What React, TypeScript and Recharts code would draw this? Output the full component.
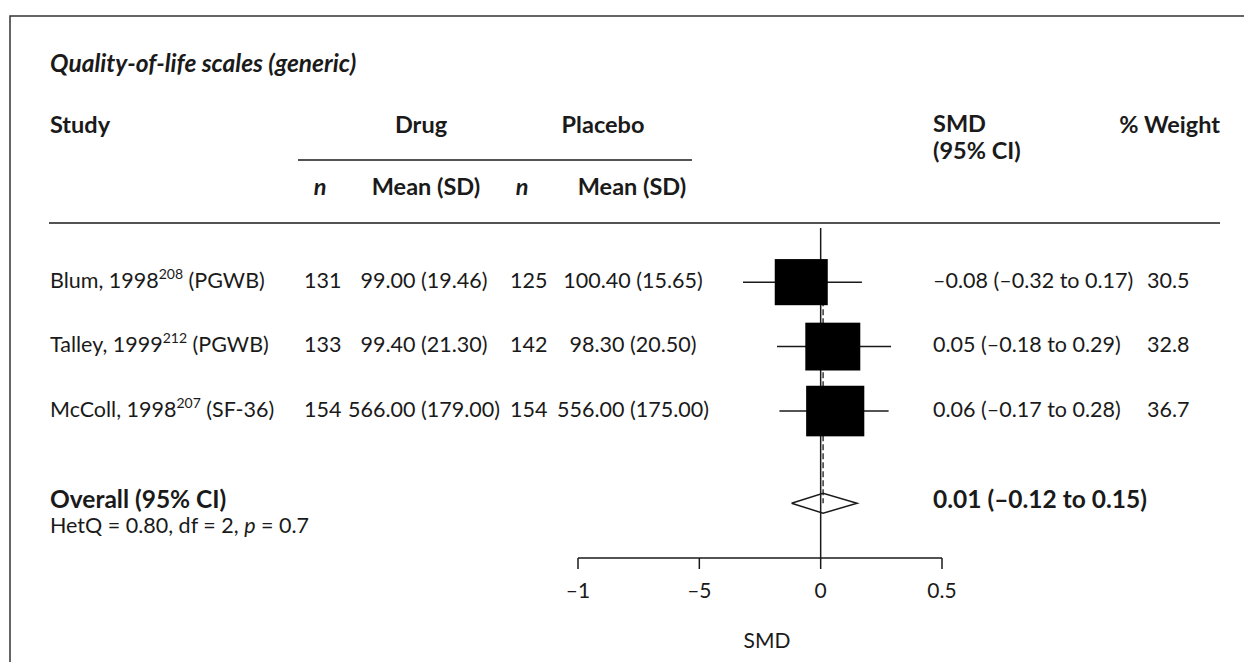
import { ComposedChart, Scatter, XAxis, YAxis, ReferenceLine, ErrorBar } from "recharts"

const W = 1244
const H = 662
const FONT = "Lato, 'DejaVu Sans', sans-serif"
const INK = "#1a1a1a"
const BODY_SIZE = 21.5
const HEAD_SIZE = 23.5

// study rows
const studies = ["Blum, 1998", "Talley, 1999", "McColl, 1998"]
const refNums = ["208", "212", "207"]
const instruments = ["(PGWB)", "(PGWB)", "(SF-36)"]
const drugN = [131, 133, 154]
const drugMean = [99.0, 99.4, 566.0]
const drugSd = [19.46, 21.3, 179.0]
const placeboN = [125, 142, 154]
const placeboMean = [100.4, 98.3, 556.0]
const placeboSd = [15.65, 20.5, 175.0]
const smd = [-0.08, 0.05, 0.06]
const ciLow = [-0.32, -0.18, -0.17]
const ciHigh = [0.17, 0.29, 0.28]
const weights = [30.5, 32.8, 36.7]

// pooled estimate + heterogeneity
const overallSmd = 0.01
const overallLow = -0.12
const overallHigh = 0.15
const hetQ = 0.8
const hetDf = 2
const hetP = 0.7

const xTicks = [-1, -0.5, 0, 0.5]
const xTickLabels = ["–1", "–5", "0", "0.5"]

// layout (row units on the y axis)
const OVERALL_ROW = 4.43
const DIAMOND_HALF = 0.155
const ROW_BASE = [288, 352, 417]

const fmt = (v: number) => (v < 0 ? "–" : "") + Math.abs(v).toFixed(2)

const studyPoints = smd.map((v, i) => ({
    x: v,
    y: i + 1,
    weight: weights[i],
    ci: [v - ciLow[i], ciHigh[i] - v],
}))

const diamondPoints = [
    { x: overallLow, y: OVERALL_ROW },
    { x: overallSmd, y: OVERALL_ROW - DIAMOND_HALF },
    { x: overallHigh, y: OVERALL_ROW },
    { x: overallSmd, y: OVERALL_ROW + DIAMOND_HALF },
    { x: overallLow, y: OVERALL_ROW },
]

// square area proportional to study weight
const WeightBox = (props: any) => {
    const { cx, cy, payload } = props
    const w = 9.6 * Math.sqrt(payload.weight)
    const h = w * 0.87
    return <rect x={cx - w / 2} y={cy - h / 2} width={w} height={h} fill="#000" />
}

const Blank = () => <g />

const App = () => {
    return (
        <div style={{ position: "relative", width: W, height: H, overflow: "hidden", background: "#fff" }}>
            <style>{"body{margin:0}"}</style>
            <div style={{ position: "absolute", left: 0, top: 0 }}>
                <ComposedChart
                    width={W}
                    height={H}
                    margin={{ top: 228, right: 302, bottom: 0, left: 578 }}
                >
                    <XAxis
                        type="number"
                        dataKey="x"
                        domain={[-1, 0.5]}
                        ticks={xTicks}
                        interval={0}
                        allowDataOverflow
                        height={104}
                        stroke={INK}
                        strokeWidth={1.5}
                        tickSize={11}
                        tickMargin={14}
                        tick={{ fill: INK, fontSize: 21, fontFamily: FONT }}
                        tickFormatter={(v: number) => xTickLabels[xTicks.indexOf(v)] ?? String(v)}
                        label={{ value: "SMD", position: "insideBottom", offset: 14, dx: 7, fill: INK, fontSize: 21, fontFamily: FONT }}
                    />
                    <YAxis type="number" dataKey="y" domain={[0.16, 5.28]} reversed hide allowDataOverflow />
                    <ReferenceLine x={0} stroke={INK} strokeWidth={1.5} />
                    <ReferenceLine
                        segment={[
                            { x: overallSmd, y: 1 },
                            { x: overallSmd, y: OVERALL_ROW },
                        ]}
                        stroke={INK}
                        strokeWidth={1.3}
                        strokeDasharray="6 3"
                    />
                    <Scatter data={studyPoints} shape={WeightBox} fill="#000" isAnimationActive={false}>
                        <ErrorBar dataKey="ci" direction="x" width={0} stroke={INK} strokeWidth={1.5} />
                    </Scatter>
                    <Scatter
                        data={diamondPoints}
                        line={{ stroke: INK, strokeWidth: 1.5 }}
                        lineType="joint"
                        shape={Blank}
                        fill="none"
                        isAnimationActive={false}
                    />
                </ComposedChart>
            </div>
            <svg
                width={W}
                height={H}
                style={{ position: "absolute", left: 0, top: 0, pointerEvents: "none" }}
                fontFamily={FONT}
                fontSize={BODY_SIZE}
                fill={INK}
            >
                {/* outer frame */}
                <path d={`M10 ${H} L10 16 L${W} 16`} fill="none" stroke="#333" strokeWidth={1.5} />

                <text x={50} y={72} fontSize={24.5} fontWeight="bold" fontStyle="italic">
                    Quality-of-life scales (generic)
                </text>

                <g fontWeight="bold" fontSize={HEAD_SIZE}>
                    <text x={50} y={133}>Study</text>
                    <text x={421} y={133} textAnchor="middle">Drug</text>
                    <text x={603} y={133} textAnchor="middle">Placebo</text>
                    <text x={933} y={132}>SMD</text>
                    <text x={933} y={159}>(95% CI)</text>
                    <text x={1220} y={133} textAnchor="end">% Weight</text>
                    <text x={320} y={195} fontStyle="italic" textAnchor="middle">n</text>
                    <text x={426} y={195} textAnchor="middle">Mean (SD)</text>
                    <text x={522} y={195} fontStyle="italic" textAnchor="middle">n</text>
                    <text x={632} y={195} textAnchor="middle">Mean (SD)</text>
                </g>

                <line x1={298} x2={692} y1={160} y2={160} stroke={INK} strokeWidth={1.5} />
                <line x1={49} x2={1220} y1={223} y2={223} stroke={INK} strokeWidth={1.5} />

                {studies.map((name, i) => (
                    <g key={name}>
                        <text x={50} y={ROW_BASE[i]}>
                            {name}
                            <tspan dy={-9} fontSize={14}>{refNums[i]}</tspan>
                            <tspan dy={9}> {instruments[i]}</tspan>
                        </text>
                        <text x={304} y={ROW_BASE[i]}>{drugN[i]}</text>
                        <text x={424} y={ROW_BASE[i]} textAnchor="middle">
                            {`${drugMean[i].toFixed(2)} (${drugSd[i].toFixed(2)})`}
                        </text>
                        <text x={510} y={ROW_BASE[i]}>{placeboN[i]}</text>
                        <text x={633} y={ROW_BASE[i]} textAnchor="middle">
                            {`${placeboMean[i].toFixed(2)} (${placeboSd[i].toFixed(2)})`}
                        </text>
                        <text x={933} y={ROW_BASE[i]}>
                            {`${fmt(smd[i])} (${fmt(ciLow[i])} to ${fmt(ciHigh[i])})`}
                        </text>
                        <text x={1147} y={ROW_BASE[i]}>{weights[i].toFixed(1)}</text>
                    </g>
                ))}

                <text x={50} y={508} fontSize={24.5} fontWeight="bold">Overall (95% CI)</text>
                <text x={50} y={533}>
                    {`HetQ = ${hetQ.toFixed(2)}, df = ${hetDf}, `}
                    <tspan fontStyle="italic">p</tspan>
                    {` = ${hetP}`}
                </text>
                <text x={933} y={508} fontSize={24.5} fontWeight="bold">
                    {`${fmt(overallSmd)} (${fmt(overallLow)} to ${fmt(overallHigh)})`}
                </text>
            </svg>
        </div>
    )
}

export default App
